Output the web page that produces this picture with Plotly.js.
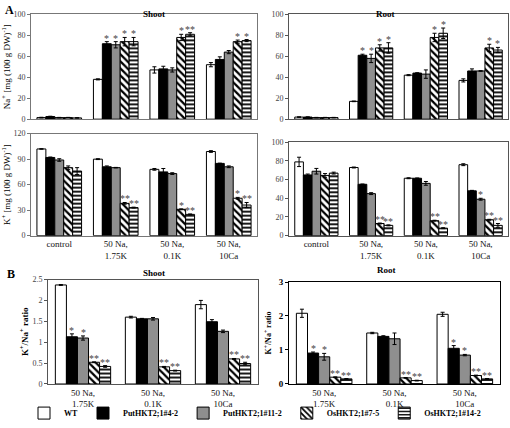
<!DOCTYPE html>
<html><head><meta charset="utf-8">
<script src="https://cdn.plot.ly/plotly-3.0.1.min.js"></script>
<style>html,body{margin:0;padding:0;background:#fff}#plot{width:510px;height:428px}</style>
</head><body><div id="plot"></div>
<script>
// ---------- DATA ----------
const genotypes = ['WT', 'PutHKT2;1#4-2', 'PutHKT2;1#11-2', 'OsHKT2;1#7-5', 'OsHKT2;1#14-2'];
const catsA = ['control', '50 Na,<br>1.75K', '50 Na,<br>0.1K', '50 Na,<br>10Ca'];
const catsB = ['50 Na,<br>1.75K', '50 Na,<br>0.1K', '50 Na,<br>10Ca'];

// Shoot Na+
const shootNa = [[1.5, 38, 47, 52], [2.5, 72, 48, 57], [1.5, 71, 47, 64], [1.5, 74, 78, 74], [1.2, 74, 81, 75]];
const shootNaErr = [[0.3, 0.5, 3, 2], [0.3, 2, 2.5, 2.5], [0.2, 3, 2, 1.5], [0.2, 4, 3, 1.5], [0.2, 4, 1.5, 1]];
const shootNaSig = [['', '', '', ''], ['', '*', '', ''], ['', '*', '', ''], ['', '*', '*', '*'], ['', '*', '**', '*']];
// Root Na+
const rootNa = [[2, 17, 42, 37], [2, 61, 44, 46], [1.5, 58, 43, 46], [1.5, 68, 78, 68], [1.5, 68, 82, 66]];
const rootNaErr = [[0.2, 0.3, 0.5, 1.5], [0.2, 1, 0.3, 2], [0.2, 4, 4, 0.3], [0.2, 3, 4, 3.5], [0.2, 5, 5, 2.5]];
const rootNaSig = [['', '', '', ''], ['', '*', '', ''], ['', '*', '', ''], ['', '*', '*', '*'], ['', '*', '*', '*']];
// Shoot K+
const shootK = [[102, 90, 78, 99], [92, 81, 75, 85], [89, 80, 73, 81], [80, 38, 31, 44], [76, 33, 25, 36]];
const shootKErr = [[0.3, 0.5, 1, 1], [0.5, 1, 4, 0.3], [1.5, 0.3, 1, 1], [2, 1, 0.5, 1], [4, 0.5, 0.5, 3]];
const shootKSig = [['', '', '', ''], ['', '', '', ''], ['', '', '', ''], ['', '**', '*', '*'], ['', '**', '**', '**']];
// Root K+
const rootK = [[79, 73, 61.5, 76], [65, 55, 61.5, 48], [69, 45, 56, 39], [64.5, 13, 16, 17], [67, 11, 8, 11]];
const rootKErr = [[5, 0.5, 0.5, 1], [1, 0.3, 0.3, 0.5], [3, 1, 2, 1], [2, 0.5, 0.5, 0.5], [1, 0.5, 0.5, 2]];
const rootKSig = [['', '', '', ''], ['', '', '', ''], ['', '', '', '*'], ['', '**', '**', '**'], ['', '**', '**', '**']];
// Shoot K+/Na+ ratio
const shootRatio = [[2.37, 1.6, 1.9], [1.13, 1.56, 1.49], [1.10, 1.56, 1.26], [0.52, 0.41, 0.6], [0.42, 0.32, 0.49]];
const shootRatioErr = [[0.01, 0.02, 0.1], [0.07, 0.01, 0.05], [0.05, 0.03, 0.03], [0.01, 0.01, 0.01], [0.02, 0.01, 0.03]];
const shootRatioSig = [['', '', ''], ['*', '', ''], ['*', '', ''], ['**', '**', '**'], ['**', '**', '**']];
// Root K+/Na+ ratio
const rootRatio = [[2.08, 1.5, 2.05], [0.91, 1.4, 1.05], [0.8, 1.33, 0.85], [0.2, 0.18, 0.25], [0.15, 0.1, 0.15]];
const rootRatioErr = [[0.12, 0.02, 0.06], [0.03, 0.02, 0.08], [0.1, 0.17, 0.02], [0.01, 0.01, 0.01], [0.01, 0.01, 0.01]];
const rootRatioSig = [['', '', ''], ['*', '', '*'], ['*', '', '*'], ['**', '**', '**'], ['**', '**', '**']];

// ---------- STYLE ----------
const W = 510, H = 428;
const SERIF = 'Liberation Serif, Times New Roman, serif';
const BARGAP = 0.21;
const markers = [
  {color: '#ffffff', line: {color: '#000', width: 1}},
  {color: '#000000', line: {color: '#000', width: 1}},
  {color: '#8f8f8f', line: {color: '#000', width: 1}},
  {color: '#ffffff', line: {color: '#000', width: 1}, pattern: {shape: '\\', fgcolor: '#000', bgcolor: '#fff', size: 5, solidity: 0.45}},
  {color: '#ffffff', line: {color: '#000', width: 1}, pattern: {shape: '-', fgcolor: '#000', bgcolor: '#fff', size: 4, solidity: 0.45}}
];
const px = v => v / W, py = v => 1 - v / H;

const traces = [];
const annotations = [];
function panel(cats, vals, errs, sig, xa, ya, legend) {
  vals.forEach((v, k) => {
    traces.push({
      type: 'bar', x: cats, y: v, name: genotypes[k], xaxis: xa, yaxis: ya,
      marker: markers[k], showlegend: legend, legendgroup: genotypes[k],
      error_y: {type: 'data', array: errs[k], visible: true, color: '#000', thickness: 1, width: 2},
      hoverinfo: 'skip'
    });
    sig[k].forEach((s, i) => {
      if (!s) return;
      annotations.push({
        xref: xa, yref: ya, x: i + (k - 2) * (1 - BARGAP) / 5, y: v[i] + errs[k][i],
        text: s, showarrow: false, yanchor: 'bottom', yshift: -4,
        font: {family: SERIF, size: 10, color: '#444'}
      });
    });
  });
}
panel(catsA, shootNa, shootNaErr, shootNaSig, 'x', 'y', true);
panel(catsA, rootNa, rootNaErr, rootNaSig, 'x2', 'y2', false);
panel(catsA, shootK, shootKErr, shootKSig, 'x3', 'y3', false);
panel(catsA, rootK, rootKErr, rootKSig, 'x4', 'y4', false);
panel(catsB, shootRatio, shootRatioErr, shootRatioSig, 'x5', 'y5', false);
panel(catsB, rootRatio, rootRatioErr, rootRatioSig, 'x6', 'y6', false);

function xax(l, r, anchor, showLabels, lc) {
  return {domain: [px(l), px(r)], anchor: anchor, type: 'category', showticklabels: showLabels,
    tickfont: {family: SERIF, size: 9, color: '#111'}, ticks: '', showline: true, mirror: true,
    linecolor: lc, linewidth: 1, showgrid: false, zeroline: false, fixedrange: true};
}
function yax(t, b, anchor, range, dtick, lc, bold, title, standoff, tsize) {
  const ax = {domain: [py(b), py(t)], anchor: anchor, range: range, dtick: dtick,
    tickfont: {family: SERIF, size: bold ? 9 : 8, color: bold ? '#000' : '#444', weight: bold ? 'bold' : 'normal'},
    ticks: 'outside', ticklen: 3, tickcolor: lc, showline: true, mirror: true,
    linecolor: lc, linewidth: 1, showgrid: false, zeroline: false, fixedrange: true};
  if (title) ax.title = {text: title, standoff: standoff, font: {family: SERIF, size: tsize || 9, color: '#000'}};
  return ax;
}
const naTitle = 'Na<sup>+</sup> [mg (100 g DW)<sup>-1</sup>]';
const kTitle = 'K<sup>+</sup> [mg (100 g DW)<sup>-1</sup>]';
const ratioTitle = '<b>K<sup>+</sup>/Na<sup>+</sup> ratio</b>';

const layout = {
  width: W, height: H, margin: {l: 0, r: 0, t: 0, b: 0},
  paper_bgcolor: '#fff', plot_bgcolor: '#fff',
  barmode: 'group', bargap: BARGAP, bargroupgap: 0,
  font: {family: SERIF, color: '#000'},
  xaxis: xax(31, 257, 'y', false, '#777'),
  yaxis: yax(14.5, 120, 'x', [0, 100], 20, '#777', false, naTitle, 2),
  xaxis2: xax(289, 508, 'y2', false, '#555'),
  yaxis2: yax(14.5, 120, 'x2', [0, 100], 20, '#555', false),
  xaxis3: xax(31, 257, 'y3', true, '#777'),
  yaxis3: yax(134.6, 237.3, 'x3', [0, 120], 30, '#777', false, kTitle, 2),
  xaxis4: xax(289, 508, 'y4', true, '#555'),
  yaxis4: yax(143.3, 237.3, 'x4', [0, 100], 20, '#555', false),
  xaxis5: xax(48, 258, 'y5', true, '#555'),
  yaxis5: yax(281.5, 386.7, 'x5', [0, 2.5], 0.5, '#555', false, ratioTitle, 2, 9),
  xaxis6: xax(289, 500, 'y6', true, '#000'),
  yaxis6: yax(284, 386.7, 'x6', [0, 3], 1, '#000', true, ratioTitle, 5, 8),
  showlegend: true,
  legend: {orientation: 'h', x: 0.5, xanchor: 'center', y: py(416), yanchor: 'middle',
    font: {family: SERIF, size: 8, color: '#000', weight: 'bold'}, itemwidth: 30, tracegroupgap: 0,
    bgcolor: 'rgba(0,0,0,0)'},
  annotations: annotations.concat([
    {xref: 'paper', yref: 'paper', x: px(3), y: py(1), xanchor: 'left', yanchor: 'top', text: '<b>A</b>', showarrow: false, font: {family: SERIF, size: 12}},
    {xref: 'paper', yref: 'paper', x: px(5), y: py(267), xanchor: 'left', yanchor: 'top', text: '<b>B</b>', showarrow: false, font: {family: SERIF, size: 12}},
    {xref: 'paper', yref: 'paper', x: px(141), y: py(7), text: '<b>Shoot</b>', showarrow: false, font: {family: SERIF, size: 9}},
    {xref: 'paper', yref: 'paper', x: px(397), y: py(7), text: '<b>Root</b>', showarrow: false, font: {family: SERIF, size: 9}},
    {xref: 'paper', yref: 'paper', x: px(141), y: py(275), text: '<b>Shoot</b>', showarrow: false, font: {family: SERIF, size: 9}},
    {xref: 'paper', yref: 'paper', x: px(398), y: py(272), text: '<b>Root</b>', showarrow: false, font: {family: SERIF, size: 9}}
  ])
};
Plotly.newPlot('plot', traces, layout, {displayModeBar: false, staticPlot: true});
</script>
</body></html>
